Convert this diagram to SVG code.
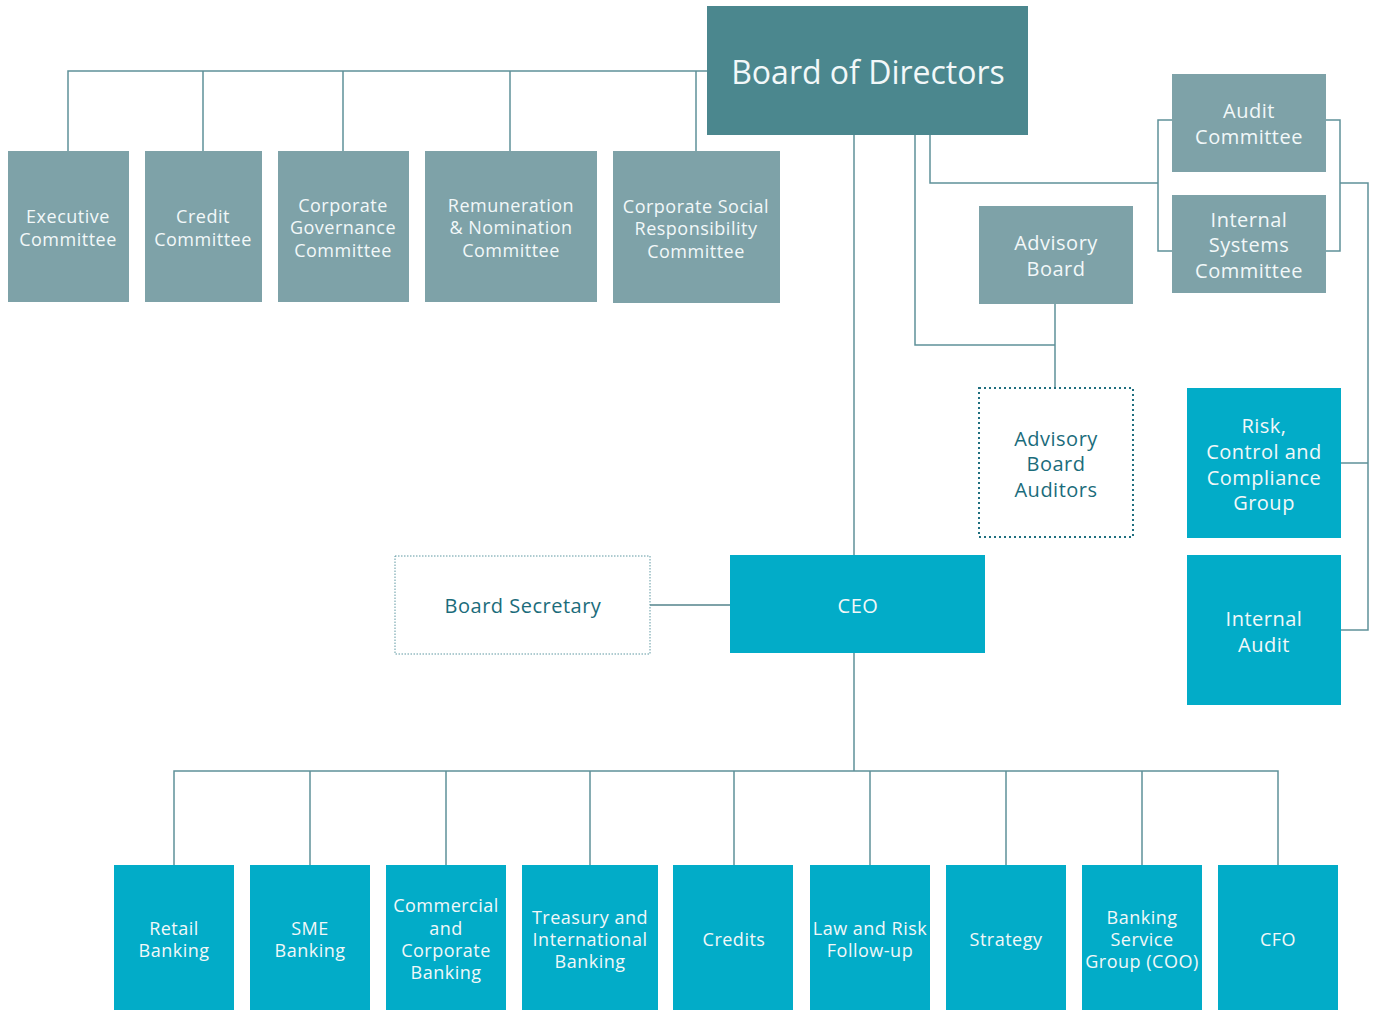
<svg xmlns="http://www.w3.org/2000/svg" width="1377" height="1011" viewBox="0 0 1377 1011">
<style>
.board{fill:#4b878e}
.gray{fill:#7ea2a8}
.teal{fill:#02acc8}
.dot{fill:#ffffff;stroke:#1e6e7e;stroke-width:2;stroke-dasharray:2 3}
.dot2{fill:#ffffff;stroke:#5f98a2;stroke-width:1;stroke-dasharray:1.5 1.5}
text{font-family:"Open Sans","Noto Sans",sans-serif;text-anchor:middle;fill:#f2f8f9}
.s18{font-size:18px;letter-spacing:0.5px}
.s20{font-size:20px;letter-spacing:0.5px}
.dk{fill:#1b6c7b}
.con{fill:none;stroke:#5f9199;stroke-width:1.5}
</style>
<g id="connectors" class="con">
<path d="M68,151 V71 H707 M203,71 V151 M343,71 V151 M510,71 V151 M696,71 V151"/>
<path d="M854,135 V555"/>
<path d="M915,135 V345 H1055 M1055,304 V388"/>
<path d="M930,135 V183 H1158 M1172,120 H1158 V251 H1172"/>
<path d="M1326,120 H1340 V251 H1326 M1340,183 H1368 V630 H1341 M1368,463 H1341"/>
<path d="M650,605 H730" style="stroke:#7ea2a8;stroke-width:2"/>
<path d="M854,653 V771 M174,865 V771 H1278 V865 M310,771 V865 M446,771 V865 M590,771 V865 M734,771 V865 M870,771 V865 M1006,771 V865 M1142,771 V865"/>
</g>
<g id="board"><rect class="board" x="707" y="6" width="321" height="129"/><text x="868" y="84" style="font-size:32px">Board of Directors</text></g>
<g id="exec"><rect class="gray" x="8" y="151" width="121" height="151"/><text class="s18" x="68" y="223">Executive</text><text class="s18" x="68" y="246">Committee</text></g>
<g id="credit"><rect class="gray" x="145" y="151" width="117" height="151"/><text class="s18" x="203" y="223">Credit</text><text class="s18" x="203" y="246">Committee</text></g>
<g id="governance"><rect class="gray" x="278" y="151" width="131" height="151"/><text class="s18" x="343" y="212">Corporate</text><text class="s18" x="343" y="234">Governance</text><text class="s18" x="343" y="257">Committee</text></g>
<g id="remuneration"><rect class="gray" x="425" y="151" width="172" height="151"/><text class="s18" x="511" y="212">Remuneration</text><text class="s18" x="511" y="234">&amp; Nomination</text><text class="s18" x="511" y="257">Committee</text></g>
<g id="csr"><rect class="gray" x="613" y="151" width="167" height="152"/><text class="s18" x="696" y="213">Corporate Social</text><text class="s18" x="696" y="235">Responsibility</text><text class="s18" x="696" y="258">Committee</text></g>
<g id="advisory"><rect class="gray" x="979" y="206" width="154" height="98"/><text class="s20" x="1056" y="250">Advisory</text><text class="s20" x="1056" y="276">Board</text></g>
<g id="audit-committee"><rect class="gray" x="1172" y="74" width="154" height="98"/><text class="s20" x="1249" y="118">Audit</text><text class="s20" x="1249" y="144">Committee</text></g>
<g id="internal-systems"><rect class="gray" x="1172" y="195" width="154" height="98"/><text class="s20" x="1249" y="227">Internal</text><text class="s20" x="1249" y="252">Systems</text><text class="s20" x="1249" y="278">Committee</text></g>
<g id="advisory-auditors"><rect class="dot" x="979" y="388" width="154" height="149"/><text class="s20 dk" x="1056" y="446">Advisory</text><text class="s20 dk" x="1056" y="471">Board</text><text class="s20 dk" x="1056" y="497">Auditors</text></g>
<g id="risk"><rect class="teal" x="1187" y="388" width="154" height="150"/><text class="s20" x="1264" y="433">Risk,</text><text class="s20" x="1264" y="459">Control and</text><text class="s20" x="1264" y="485">Compliance</text><text class="s20" x="1264" y="510">Group</text></g>
<g id="internal-audit"><rect class="teal" x="1187" y="555" width="154" height="150"/><text class="s20" x="1264" y="626">Internal</text><text class="s20" x="1264" y="652">Audit</text></g>
<g id="ceo"><rect class="teal" x="730" y="555" width="255" height="98"/><text class="s20" x="858" y="613">CEO</text></g>
<g id="secretary"><rect class="dot2" x="395" y="556" width="255" height="98"/><text class="s20 dk" x="523" y="613">Board Secretary</text></g>
<g id="retail"><rect class="teal" x="114" y="865" width="120" height="145"/><text class="s18" x="174" y="935">Retail</text><text class="s18" x="174" y="957">Banking</text></g>
<g id="sme"><rect class="teal" x="250" y="865" width="120" height="145"/><text class="s18" x="310" y="935">SME</text><text class="s18" x="310" y="957">Banking</text></g>
<g id="commercial"><rect class="teal" x="386" y="865" width="120" height="145"/><text class="s18" x="446" y="912">Commercial</text><text class="s18" x="446" y="935">and</text><text class="s18" x="446" y="957">Corporate</text><text class="s18" x="446" y="979">Banking</text></g>
<g id="treasury"><rect class="teal" x="522" y="865" width="136" height="145"/><text class="s18" x="590" y="924">Treasury and</text><text class="s18" x="590" y="946">International</text><text class="s18" x="590" y="968">Banking</text></g>
<g id="credits"><rect class="teal" x="673" y="865" width="120" height="145"/><text class="s18" x="734" y="946">Credits</text></g>
<g id="law"><rect class="teal" x="810" y="865" width="120" height="145"/><text class="s18" x="870" y="935">Law and Risk</text><text class="s18" x="870" y="957">Follow-up</text></g>
<g id="strategy"><rect class="teal" x="946" y="865" width="120" height="145"/><text class="s18" x="1006" y="946">Strategy</text></g>
<g id="coo"><rect class="teal" x="1082" y="865" width="120" height="145"/><text class="s18" x="1142" y="924">Banking</text><text class="s18" x="1142" y="946">Service</text><text class="s18" x="1142" y="968">Group (COO)</text></g>
<g id="cfo"><rect class="teal" x="1218" y="865" width="120" height="145"/><text class="s18" x="1278" y="946">CFO</text></g>
</svg>
